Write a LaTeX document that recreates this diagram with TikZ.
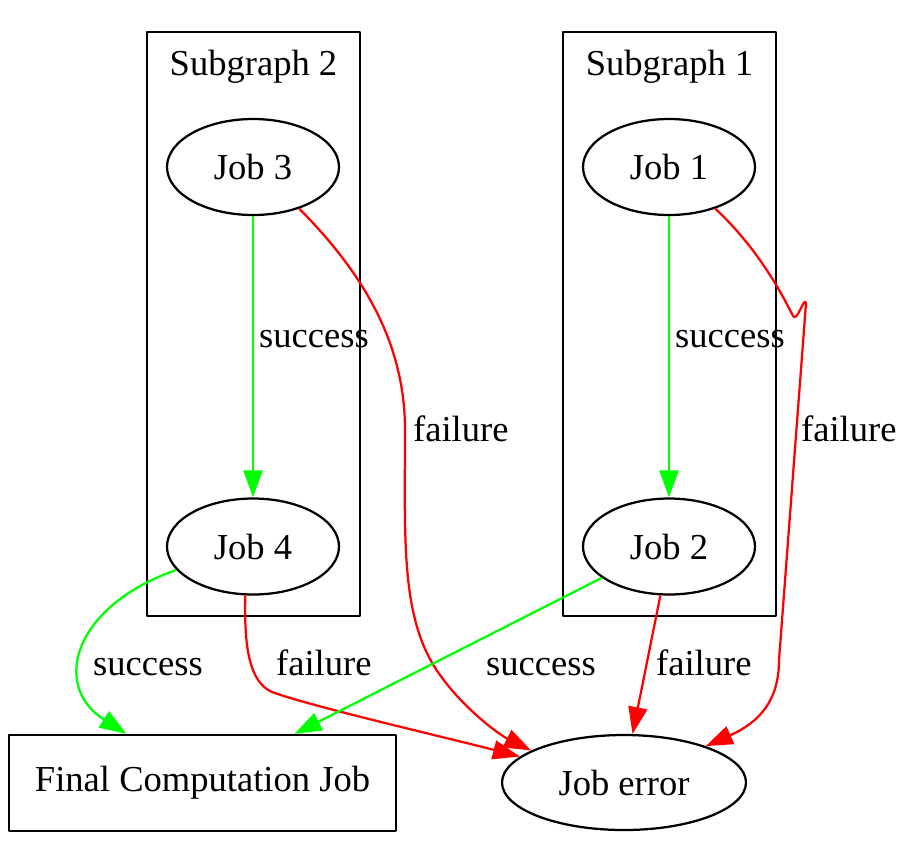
\documentclass[tikz,border=0pt]{standalone}
\usepackage{fontspec}
\setmainfont{Liberation Serif}
\usetikzlibrary{shapes.geometric,arrows.meta}

\tikzset{
  job/.style={draw, ellipse, inner sep=0pt, minimum width=34.4mm, minimum height=19.2mm},
  ok/.style={draw=green, ->},
  fail/.style={draw=red, ->},
  lbl/.style={anchor=base west, inner sep=0pt}
}

\begin{document}
\begin{tikzpicture}[x=0.2mm, y=-0.2mm, line width=0.45mm, line join=round, >={Triangle[length=5.4mm, width=3.8mm]}, font=\fontsize{20.8}{25}\selectfont]
	\useasboundingbox (0,0) rectangle (914,842);
	
	% clusters
	\draw (147,32) rectangle (360,616);
	\draw (563,32) rectangle (776,616);
	\node[anchor=base] (sub2) at (253.5,75) {Subgraph 2};
	\node[anchor=base] (sub1) at (669.5,75) {Subgraph 1};
	
	% jobs
	\node[job] (j3) at (253,167) {Job 3};
	\node[job] (j4) at (253,546.5) {Job 4};
	\node[job] (j1) at (669,167) {Job 1};
	\node[job] (j2) at (669,546.5) {Job 2};
	\node[draw, inner sep=0pt, minimum width=77.4mm, minimum height=19.2mm] (final) at (202.5,783) {Final Computation Job};
	\node[draw, ellipse, inner sep=0pt, minimum width=48.8mm, minimum height=19mm] (err) at (624,782.5) {Job error};
	
	% edges
	\draw[ok] (j3) -- (j4);
	\draw[ok] (j1) -- (j2);
	\draw[fail] (j3.-42.4) .. controls (360,270) and (405,340) .. (405,430)
		.. controls (405,540) and (400,620) .. (440,675)
		.. controls (465,710) and (500,735) .. (err.161);
	\draw[fail] (j1.-42.4) .. controls (760,250) and (785,300) .. (793,316)
		.. controls (797,323) and (804,296) .. (806,303)
		-- (779,660) .. controls (779,700) and (760,722) .. (err.24.5);
	\draw[ok] (j4.197.6) .. controls (75,605) and (50,685) .. ([xshift=-15.2mm]final.north);
	\draw[fail] (j4.261.8) .. controls (244,650) and (250,682) .. (272,692)
		.. controls (310,706) and (440,736) .. (err.166.5);
	\draw[ok] (j2.205.5) -- ([xshift=18.4mm]final.north);
	\draw[fail] (j2.260.5) -- (err.80.4);
	
	% labels
	\node[lbl] (l1) at (258,347) {success};
	\node[lbl] (l2) at (674,347) {success};
	\node[lbl] (l3) at (412,441) {failure};
	\node[lbl] (l4) at (800,441) {failure};
	\node[lbl] (l5) at (92,675) {success};
	\node[lbl] (l6) at (275,675) {failure};
	\node[lbl] (l7) at (485,675) {success};
	\node[lbl] (l8) at (655,675) {failure};
\end{tikzpicture}
\end{document}
